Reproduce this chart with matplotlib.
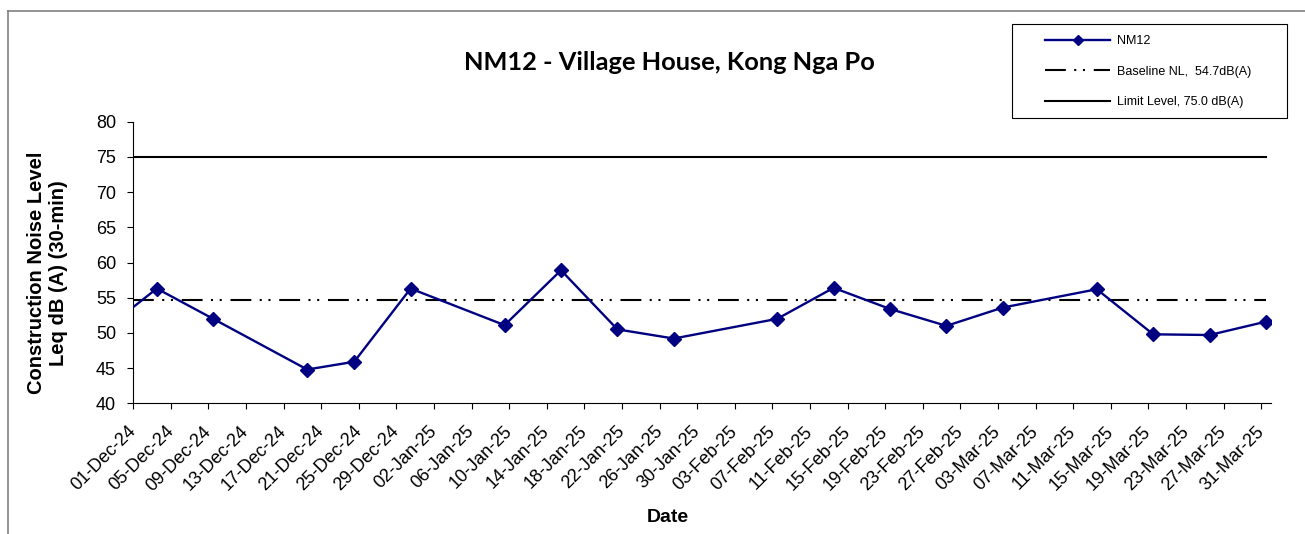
import datetime as dt
import matplotlib
matplotlib.use("Agg")
import matplotlib.pyplot as plt
import matplotlib.dates as mdates
from matplotlib.patches import Rectangle
from matplotlib.lines import Line2D

plt.rcParams['font.family'] = ['Liberation Sans', 'DejaVu Sans']

# measured dates (first one lies before the axis start and is clipped)
dates = ["2024-11-27", "2024-12-03", "2024-12-09", "2024-12-19", "2024-12-24",
         "2024-12-30", "2025-01-09", "2025-01-15", "2025-01-21", "2025-01-27",
         "2025-02-07", "2025-02-13", "2025-02-19", "2025-02-25", "2025-03-03",
         "2025-03-13", "2025-03-19", "2025-03-25", "2025-03-31"]
leq = [50.0, 56.3, 52.0, 44.8, 45.9,
       56.3, 51.1, 58.9, 50.5, 49.2,
       52.0, 56.4, 53.4, 51.0, 53.6,
       56.2, 49.8, 49.7, 51.6]
baseline = 54.7
limit = 75.0
start = dt.datetime(2024, 12, 1)
end = dt.datetime(2025, 4, 1)

W, H = 1305, 534
fig = plt.figure(figsize=(W/100, H/100), dpi=100)
ax = fig.add_axes([133.3/W, 1-403.3/H, (1270.7-133.3)/W, (403.3-121.7)/H])

# points sit in the middle of each day slot (excel date axis)
x = [dt.datetime.strptime(d, "%Y-%m-%d") + dt.timedelta(hours=12) for d in dates]
last = dt.datetime(2025, 3, 31, 12)

ax.plot(x, leq, color="#000080", lw=1.7, marker="D", ms=7, mec="#000080", mfc="#000080", clip_on=True, zorder=4)
ax.plot([start, last], [baseline, baseline], color="black", lw=1.5,
        linestyle=(0, (10, 4, 1, 3.2, 1, 4.2)), zorder=3)
ax.plot([start, last], [limit, limit], color="black", lw=1.5, zorder=3)

ax.set_xlim(start, end)
ax.set_ylim(40, 80)
ax.set_yticks(range(40, 81, 5))
ticks = [start + dt.timedelta(days=4*i) for i in range(31)]
ax.set_xticks(ticks)
ax.xaxis.set_major_formatter(mdates.DateFormatter("%d-%b-%y"))
ax.tick_params(axis="both", direction="out", length=4.5, width=0.8, labelsize=13)
ax.tick_params(axis="y", pad=8)
ax.tick_params(axis="x", pad=14)
for lab in ax.get_xticklabels():
    lab.set_rotation(45)
    lab.set_rotation_mode("anchor")
    lab.set_ha("right")
    lab.set_va("center")
for s in ["top", "right"]:
    ax.spines[s].set_visible(False)
for s in ["left", "bottom"]:
    ax.spines[s].set_linewidth(0.8)

fig.text(669/W, 1-62/H, "NM12 - Village House, Kong Nga Po", family=["Lato", "DejaVu Sans"],
         fontweight="bold", fontsize=18.3, ha="center", va="center")
fig.text(47.5/W, 1-273/H, "Construction Noise Level\nLeq dB (A) (30-min)", rotation=90,
         fontweight="bold", fontsize=14.5, ha="center", va="center", multialignment="center", linespacing=1.15)
fig.text(668/W, 1-518/H, "Date", fontweight="bold", fontsize=14, ha="center", va="center")

# outer chart border (only left and top visible in the crop)
fig.add_artist(Line2D([7.5/W, 7.5/W], [0, 1-11/H], color="#808080", lw=1.2))
fig.add_artist(Line2D([7.5/W, 1], [1-11/H, 1-11/H], color="#808080", lw=1.2))

# legend box
fig.add_artist(Rectangle((1011.7/W, 1-118.3/H), 275.6/W, 94.3/H, transform=fig.transFigure,
                         fill=False, edgecolor="black", lw=0.8))
handles = [Line2D([], [], color="#000080", lw=1.7, marker="D", ms=5),
           Line2D([], [], color="black", lw=1.5, linestyle=(0, (10, 4, 1, 3.2, 1, 4.2))),
           Line2D([], [], color="black", lw=1.5)]
labels = ["NM12", "Baseline NL,  54.7dB(A)", "Limit Level, 75.0 dB(A)"]
fig.legend(handles, labels, loc="upper left", bbox_to_anchor=(1045/W, 1-35/H), frameon=False,
           fontsize=9, handlelength=5.2, handletextpad=0.55, labelspacing=1.5,
           borderpad=0, borderaxespad=0, numpoints=1)

fig.savefig("out.png", dpi=100)
